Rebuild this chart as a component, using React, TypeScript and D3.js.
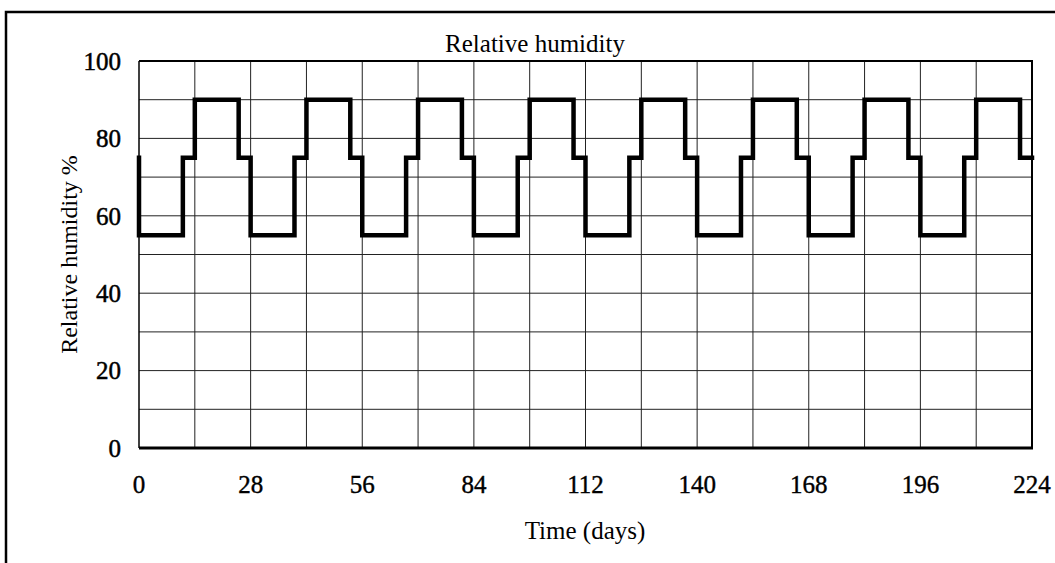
import React from "react";
import * as d3 from "d3";

// Step breakpoints (day, RH %) – humidity cycle
const stepDays = [0, 0, 11, 14, 25, 28, 39, 42, 53, 56, 67, 70, 81, 84, 95, 98, 109, 112, 123, 126, 137, 140, 151, 154, 165, 168, 179, 182, 193, 196, 207, 210, 221, 224];
const stepRH = [75, 55, 75, 90, 75, 55, 75, 90, 75, 55, 75, 90, 75, 55, 75, 90, 75, 55, 75, 90, 75, 55, 75, 90, 75, 55, 75, 90, 75, 55, 75, 90, 75, 75];

const xTickLabels = [0, 28, 56, 84, 112, 140, 168, 196, 224];
const xGrid = [14, 28, 42, 56, 70, 84, 98, 112, 126, 140, 154, 168, 182, 196, 210];
const yTickLabels = [0, 20, 40, 60, 80, 100];
const yGrid = [10, 20, 30, 40, 50, 60, 70, 80, 90];

const W = 1055;
const H = 563;
const left = 139;
const right = 1032;
const top = 61;
const bottom = 448;
const FONT = "'Liberation Serif', 'Times New Roman', serif";

export default function App() {
  const x = d3.scaleLinear().domain([0, 224]).range([left, right]);
  const y = d3.scaleLinear().domain([0, 100]).range([bottom, top]);
  const pts: [number, number][] = stepDays.map((d, i) => [d, stepRH[i]]);
  const line = d3
    .line<[number, number]>()
    .x((d) => x(d[0]))
    .y((d) => y(d[1]))
    .curve(d3.curveStepAfter);

  return (
    <svg
      width={W}
      height={H}
      style={{ position: "absolute", left: 0, top: 0, background: "#fff" }}
    >
      <rect x={0} y={0} width={W} height={H} fill="#fff" />
      {/* outer frame */}
      <path d={`M6,${H + 5} L6,12 L${W + 5},12`} fill="none" stroke="#000" strokeWidth={2.5} />

      {/* grid */}
      {xGrid.map((d) => (
        <line key={"xg" + d} x1={x(d)} x2={x(d)} y1={top} y2={bottom} stroke="#222" strokeWidth={1} />
      ))}
      {yGrid.map((d) => (
        <line key={"yg" + d} x1={left} x2={right} y1={y(d)} y2={y(d)} stroke="#222" strokeWidth={1} />
      ))}

      {/* plot borders */}
      <line x1={left} x2={right + 1} y1={top} y2={top} stroke="#000" strokeWidth={2} />
      <line x1={right} x2={right} y1={top} y2={bottom} stroke="#000" strokeWidth={2} />
      <line x1={left} x2={right + 1} y1={bottom} y2={bottom} stroke="#000" strokeWidth={3} />
      <line x1={left} x2={left} y1={top} y2={bottom} stroke="#000" strokeWidth={1.5} />

      {/* series */}
      <path d={line(pts) || ""} fill="none" stroke="#000" strokeWidth={4.5} strokeLinejoin="miter" strokeLinecap="square" />

      {/* y tick labels */}
      {yTickLabels.map((d) => (
        <text
          key={"yt" + d}
          x={121}
          y={y(d)}
          dy="0.35em"
          textAnchor="end"
          fontFamily={FONT}
          fontSize={25}
          fill="#000"
          stroke="#000"
          strokeWidth={0.5}
        >
          {d}
        </text>
      ))}
      {/* x tick labels */}
      {xTickLabels.map((d) => (
        <text
          key={"xt" + d}
          x={x(d)}
          y={493}
          textAnchor="middle"
          fontFamily={FONT}
          fontSize={25}
          fill="#000"
          stroke="#000"
          strokeWidth={0.4}
        >
          {d}
        </text>
      ))}

      {/* title */}
      <text x={535} y={52} textAnchor="middle" fontFamily={FONT} fontSize={25} fill="#000">
        Relative humidity
      </text>
      {/* axis titles */}
      <text
        transform={`translate(77,${(top + bottom) / 2}) rotate(-90)`}
        textAnchor="middle"
        fontFamily={FONT}
        fontSize={24}
        fill="#000"
      >
        Relative humidity %
      </text>
      <text x={585} y={539} textAnchor="middle" fontFamily={FONT} fontSize={25} fill="#000">
        Time (days)
      </text>
    </svg>
  );
}
